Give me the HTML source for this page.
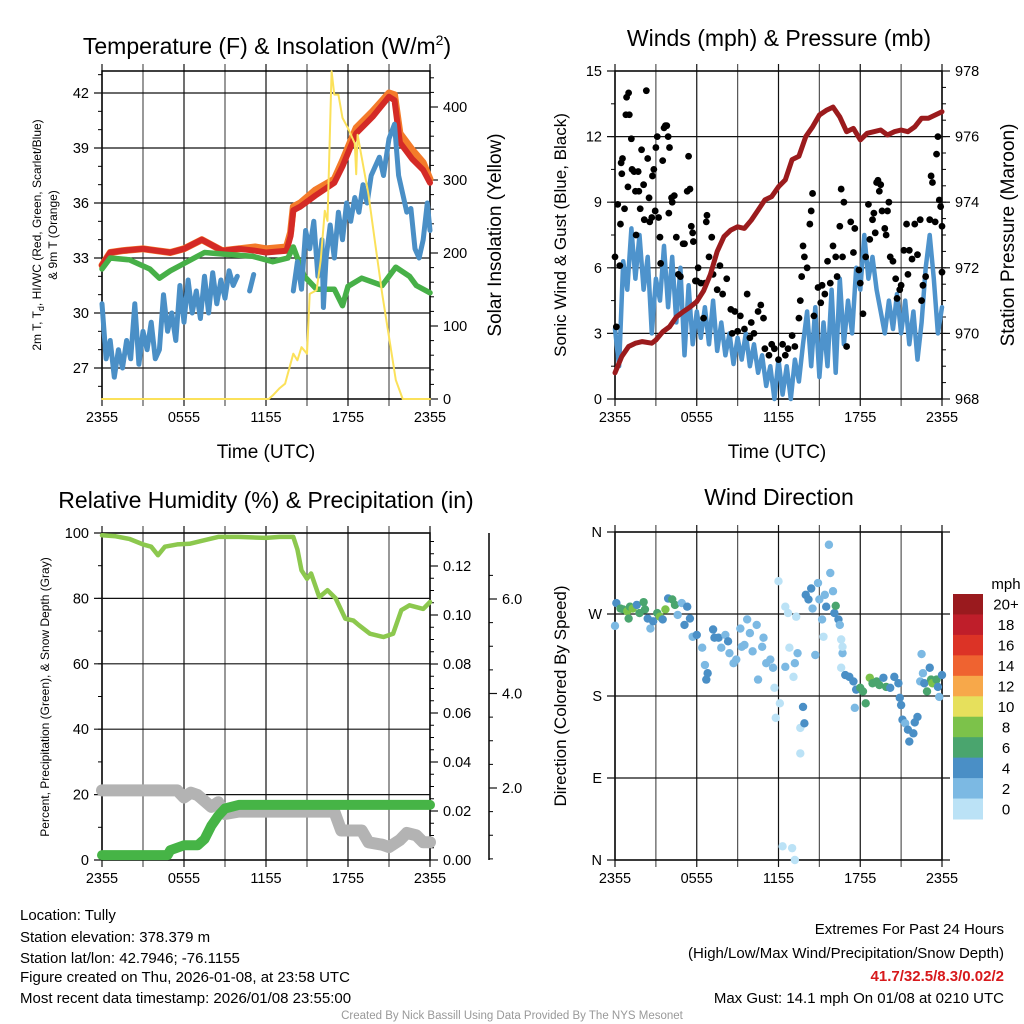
<!DOCTYPE html>
<html><head><meta charset="utf-8">
<style>
html,body{margin:0;padding:0;background:#fff;}
svg{display:block;font-family:"Liberation Sans",Arial,sans-serif;}
</style></head>
<body>
<svg id="chart" xmlns="http://www.w3.org/2000/svg" width="1024" height="1024" viewBox="0 0 1024 1024">
<g id="static" fill="#000">
<text x="267" y="54" font-size="23" text-anchor="middle">Temperature (F) &amp; Insolation (W/m<tspan font-size="14" dy="-9">2</tspan><tspan dy="9">)</tspan></text>
<text x="779" y="46" font-size="23" text-anchor="middle">Winds (mph) &amp; Pressure (mb)</text>
<text x="266" y="508" font-size="23" text-anchor="middle">Relative Humidity (%) &amp; Precipitation (in)</text>
<text x="779" y="505" font-size="23" text-anchor="middle">Wind Direction</text>
<text x="266" y="458" font-size="19" text-anchor="middle">Time (UTC)</text>
<text x="777" y="458" font-size="19" text-anchor="middle">Time (UTC)</text>
<text transform="translate(41,235) rotate(-90)" font-size="12" text-anchor="middle">2m T, T<tspan font-size="9" dy="3">d</tspan><tspan dy="-3">, HI/WC (Red, Green, Scarlet/Blue)</tspan></text>
<text transform="translate(57,235) rotate(-90)" font-size="12" text-anchor="middle">&amp; 9m T (Orange)</text>
<text transform="translate(501,235) rotate(-90)" font-size="19" text-anchor="middle">Solar Insolation (Yellow)</text>
<text transform="translate(566,235) rotate(-90)" font-size="17" text-anchor="middle">Sonic Wind &amp; Gust (Blue, Black)</text>
<text transform="translate(1014,235) rotate(-90)" font-size="19" text-anchor="middle">Station Pressure (Maroon)</text>
<text transform="translate(49,697) rotate(-90)" font-size="12" text-anchor="middle">Percent, Precipitation (Green), &amp; Snow Depth (Gray)</text>
<text transform="translate(566,696) rotate(-90)" font-size="17" text-anchor="middle">Direction (Colored By Speed)</text>
<text x="1006" y="589" font-size="15" text-anchor="middle">mph</text>
<g font-size="15">
<text x="20" y="920">Location: Tully</text>
<text x="20" y="942">Station elevation: 378.379 m</text>
<text x="20" y="963">Station lat/lon: 42.7946; -76.1155</text>
<text x="20" y="982">Figure created on Thu, 2026-01-08, at 23:58 UTC</text>
<text x="20" y="1003">Most recent data timestamp: 2026/01/08 23:55:00</text>
</g>
<g font-size="15" text-anchor="end">
<text x="1004" y="934">Extremes For Past 24 Hours</text>
<text x="1004" y="958">(High/Low/Max Wind/Precipitation/Snow Depth)</text>
<text x="1004" y="981" fill="#d7191c" font-weight="bold">41.7/32.5/8.3/0.02/2</text>
<text x="1004" y="1003">Max Gust: 14.1 mph On 01/08 at 0210 UTC</text>
</g>
<text x="512" y="1019" font-size="11.5" fill="#999" text-anchor="middle">Created By Nick Bassill Using Data Provided By The NYS Mesonet</text>
</g>
</svg>
<script>
// ---------- DATA ----------
const xTickLabels = ["2355","0555","1155","1755","2355"];
// Temperature panel
const tempTimes = [0,0.6,1.5,3,4,5,6,7.3,8.8,10,11.2,12,13.5,13.8,14,14.5,15.6,17,17.6,18.6,19.8,21,21.4,21.8,22.7,23.5,24];
const tempValues = [32.6,33.3,33.4,33.5,33.4,33.3,33.5,34.0,33.4,33.5,33.4,33.3,33.4,34.2,35.6,35.8,36.4,37.1,38.0,39.8,40.7,41.8,41.6,39.3,38.4,37.8,37.1];
const t9Values = [32.6,33.3,33.4,33.5,33.4,33.3,33.5,34.0,33.4,33.5,33.6,33.5,33.6,34.4,35.8,36.0,36.7,37.3,38.3,40.1,41.0,42.0,41.9,39.8,38.9,38.2,37.3];
const greenTimes = [0,0.6,2,3.5,4.2,5,6,7.5,9,11,12.5,13.6,14,14.4,14.8,15.7,17,17.6,18,19,20.5,21.5,22.5,23,24];
const greenValues = [32.4,33.0,32.9,32.4,31.9,32.3,32.7,33.3,33.2,33.1,32.8,33.0,33.6,32.8,32.0,31.3,31.3,30.4,31.45,31.9,31.5,32.5,32.0,31.5,31.1];
const blueTimes = [0,0.3,0.6,0.9,1.2,1.5,1.8,2.1,2.4,2.7,3,3.3,3.6,3.9,4.2,4.5,4.8,5.1,5.4,5.7,6,6.3,6.6,6.9,7.2,7.5,7.8,8.1,8.4,8.7,9,9.3,9.6,9.9,10.2,10.8,11.1,11.4,14,14.3,14.6,14.9,15.2,15.5,15.8,16.1,16.2,16.4,16.7,17,17.3,17.6,17.9,18.2,18.5,18.8,19.1,19.4,19.7,20,20.3,20.6,21,21.4,21.7,22,22.3,22.6,22.9,23.2,23.5,23.8,24];
const blueValues = [30.5,27.5,28.5,26.5,28,27,28.5,27.5,30.5,27.2,29,28,29.5,27.5,28,31,29,30,28.5,31.5,29.5,31.8,30,31.2,29.7,32,30,32.2,30.5,31.8,30.8,32.3,31.5,32,null,31.2,32.1,null,31.2,32.8,31.3,34.5,33.5,35,32,34,30.3,33,34.8,33,35.5,34,36,35,36.3,35.5,37,36,37.5,38,38.5,37.5,39.5,40.3,37.5,36.5,35.5,35.7,33.5,33,34,36,34.5];
const solarTimes = [0,12.2,12.5,13,13.4,14,14.3,14.6,15,15.2,15.7,16,16.3,16.5,16.8,17,17.3,17.6,18,18.5,18.6,18.7,19,19.5,20,20.5,21,21.5,22,24];
const solarValues = [0,0,5,15,21,62,53,71,62,144,149,190,258,244,449,417,417,385,371,350,308,362,331,280,212,144,85,26,0,0];
const tempTicks = [27,30,33,36,39,42];
const solarTicks = [0,100,200,300,400];
// Wind panel
const pressTimes = [0,0.5,1,1.5,2,2.7,3,3.5,4,4.5,5,5.5,6,6.5,7,7.5,8,8.5,9,9.5,10,10.5,11,11.5,12,12.5,13,13.5,14,14.5,15,15.5,16,16.5,17,17.5,18,18.5,19,19.5,20,20.5,21,21.5,22,22.5,23,24];
const pressValues = [968.8,969.3,969.6,969.7,969.75,969.7,969.8,970.05,970.2,970.5,970.66,970.8,970.97,971.3,971.8,972.5,972.95,973.15,973.25,973.2,973.45,973.76,974.07,974.17,974.47,974.68,975.3,975.4,976.0,976.3,976.66,976.8,976.9,976.6,976.15,976.25,975.9,976.1,976.15,976.2,976.05,976.15,976.2,976.15,976.3,976.56,976.56,976.76];
const sonicTimes = [0,0.3,0.6,0.9,1.2,1.5,1.8,2.1,2.4,2.7,3,3.3,3.6,3.9,4.2,4.5,4.8,5.1,5.4,5.7,6,6.3,6.6,6.9,7.2,7.5,7.8,8.1,8.4,8.7,9,9.3,9.6,9.9,10.2,10.5,10.8,11.1,11.4,11.7,12,12.3,12.6,12.9,13.2,13.5,13.8,14.1,14.4,14.7,15,15.3,15.6,15.9,16.2,16.5,16.8,17.1,17.4,17.7,18,18.3,18.6,18.9,19.2,19.5,19.8,20.1,20.4,20.7,21,21.3,21.6,21.9,22.2,22.5,22.8,23.1,23.4,23.7,24];
const sonicValues = [3.2,1.5,6.3,5.0,7.8,5.5,7.5,5.0,6.5,3.0,5.5,4.5,7.0,4.2,6.5,3.5,6.0,2.0,5.2,2.5,4.0,2.8,4.2,2.5,4.5,2.2,3.5,2.0,3.0,1.6,2.8,1.8,3.0,1.5,2.5,1.2,2.0,0.6,1.5,0.0,1.8,0.2,1.5,0.0,1.8,0.8,2.5,4.0,1.5,4.2,1.0,3.5,1.5,5.0,1.2,5.5,2.5,4.5,3.0,6.0,5.0,7.5,5.5,6.5,5.0,4.0,3.0,4.5,3.2,4.8,3.0,4.5,2.5,4.0,1.8,3.5,6.0,7.5,5.5,3.0,4.2];
const gustTimes = [0,0.1,0.2,0.35,0.4,0.45,0.5,0.55,0.7,0.8,0.85,0.95,1.0,1.05,1.2,1.25,1.4,1.5,1.55,1.7,1.75,1.85,1.95,2.1,2.15,2.3,2.4,2.5,2.55,2.7,2.75,2.85,2.95,3.0,3.1,3.2,3.3,3.35,3.5,3.6,3.7,3.8,3.9,3.95,4.0,4.15,4.2,4.35,4.5,4.65,4.8,5.0,5.1,5.3,5.4,5.5,5.6,5.7,5.75,5.9,6.0,6.1,6.3,6.5,6.6,6.7,6.75,6.9,7.1,7.2,7.5,7.7,7.9,8.2,8.5,8.6,8.8,9.0,9.2,9.5,9.7,9.9,10.0,10.2,10.5,10.7,10.9,11.0,11.3,11.5,11.7,12.0,12.3,12.5,12.7,13.0,13.2,13.5,13.6,13.7,13.8,13.9,14.1,14.3,14.4,14.5,14.6,14.9,15.1,15.2,15.4,15.6,15.8,16.0,16.2,16.3,16.5,16.6,16.7,16.8,17.0,17.3,17.5,17.6,17.9,18.0,18.2,18.4,18.6,18.7,18.9,19.0,19.1,19.2,19.3,19.4,19.5,19.6,19.8,19.9,20.0,20.1,20.2,20.4,20.6,20.7,20.9,21.0,21.2,21.4,21.5,21.6,21.8,22.0,22.2,22.4,22.5,22.6,22.8,23.1,23.2,23.3,23.5,23.6,23.7,23.8,23.9,24,24];
const gustValues = [6.5,3.3,8.9,6.1,8.0,10.8,10.3,11.0,8.7,13.0,13.8,9.7,14.0,13.0,11.9,10.5,10.4,9.5,7.5,10.4,9.5,8.7,11.4,9.8,8.2,14.1,11.0,9.2,8.1,8.3,10.2,10.5,8.6,11.5,12.0,8.3,7.4,6.2,10.9,12.4,12.5,12.5,12.0,8.5,11.5,9.2,9.0,9.3,7.4,5.7,5.6,7.1,7.1,9.5,11.1,9.6,7.9,7.6,7.2,5.4,5.4,6.0,5.3,3.7,5.3,8.1,8.4,6.5,7.4,5.7,5.0,6.1,4.8,5.5,4.1,3.0,4.0,3.1,3.8,3.2,4.8,2.8,3.5,3.0,4.0,4.3,3.7,2.3,2.0,2.5,2.3,1.8,2.5,2.0,2.3,2.9,2.4,3.7,4.5,5.6,7.0,6.5,6.0,8.0,8.6,9.4,3.8,5.1,4.4,5.2,4.8,6.3,5.3,7.0,6.5,5.6,7.9,9.6,6.5,9.0,2.4,8.1,6.7,7.8,5.9,5.3,3.9,6.5,8.9,7.3,8.2,8.5,7.6,9.9,10.0,9.5,9.8,8.6,7.8,7.5,8.6,9.0,6.5,6.3,5.5,4.6,5.0,5.2,6.8,8.0,5.7,6.8,6.4,8.0,6.6,8.2,4.5,5.2,5.6,8.2,10.2,9.9,8.1,11.2,12.0,9.1,8.8,7.9,5.8];
const windTicks = [0,3,6,9,12,15];
const pressTicks = [968,970,972,974,976,978];
// RH panel
const rhTimes = [0,1,2,3,3.6,4.1,4.6,5.5,6.4,7.5,8.5,10,12,13,14,14.3,14.6,15,15.3,15.9,16.5,17.1,17.8,18.4,18.8,19.6,20.6,21.3,21.9,22.5,23.5,24];
const rhValues = [99.3,99,98.2,96.5,95.8,93.2,95.8,96.5,96.7,97.8,98.8,98.8,98.5,98.8,98.8,95,88.6,86,87.6,80.4,82.5,80,73.8,73.2,71.8,69.2,68.2,69.2,76.4,77.9,76.8,78.9];
const precipTimes = [0,4.8,5.0,6.0,7.0,7.5,8.0,8.5,9.0,10,24];
const precipValues = [0.002,0.002,0.004,0.006,0.006,0.0085,0.014,0.018,0.021,0.0225,0.0225];
const snowTimes = [0,5.5,6,6.5,7,8,8.5,9,10,17,17.5,19,19.5,20.5,21,21.8,22.3,23,23.5,24];
const snowValues = [1.95,1.95,1.8,1.9,1.85,1.6,1.7,1.45,1.5,1.5,1.1,1.1,0.85,0.8,0.75,0.9,1.05,1.0,0.85,0.85];
const rhTicks = [0,20,40,60,80,100];
const precipTicks = [0,0.02,0.04,0.06,0.08,0.10,0.12];
const precipLabels = ["0.00","0.02","0.04","0.06","0.08","0.10","0.12"];
const snowTicks = [2,4,6];
const snowLabels = ["2.0","4.0","6.0"];
// Direction panel
const dirTimes = [0,0.1,0.4,0.6,0.9,1.0,1.1,1.3,1.6,1.8,2.1,2.2,2.4,2.6,2.8,3.1,3.3,3.5,3.7,3.9,4.2,4.4,4.6,4.9,5.1,5.3,5.5,5.7,6.0,6.4,6.6,6.7,6.8,7.2,7.3,7.6,7.8,8.1,8.3,8.4,8.7,8.9,9.2,9.3,9.5,9.7,9.9,10.1,10.4,10.5,10.8,10.9,11.1,11.4,11.6,11.7,11.8,12.0,12.1,12.3,12.5,12.5,12.7,12.8,13.0,13.1,13.2,13.2,13.3,13.4,13.6,13.6,13.8,13.9,14.0,14.2,14.4,14.5,14.7,14.9,15.0,15.2,15.3,15.4,15.5,15.7,15.8,16.0,16.1,16.2,16.4,16.5,16.6,16.7,16.7,16.6,16.9,17.2,17.5,17.6,17.7,18.0,18.2,18.4,18.7,18.9,19.2,19.4,19.7,19.9,20.2,20.5,20.8,20.9,21.0,21.1,21.3,21.5,21.6,21.9,22.0,22.2,22.4,22.5,22.6,22.7,22.9,23.1,23.2,23.3,23.6,23.7,23.8,24.0];
const dirDegrees = [257,282,276,275,273,265,278,276,280,271,283,275,265,254,262,271,267,264,275,287,286,280,269,282,258,278,265,245,247,233,214,198,205,253,244,244,233,247,240,227,216,220,254,234,236,264,249,229,258,198,234,244,216,220,211,189,156,306,172,15,278,212,271,233,13,201,0,216,267,227,145,117,168,150,291,286,298,276,225,304,286,264,245,291,278,346,315,295,271,279,264,258,242,227,234,211,203,201,196,167,187,189,185,172,200,194,196,192,200,190,189,201,194,178,170,154,150,143,130,139,151,157,196,226,205,194,185,211,198,194,198,190,179,203];
const dirSpeeds = [3,5,7,7,9,7,7,9,5,7,7,7,5,3,5,7,9,5,9,5,7,7,3,3,5,5,5,3,5,3,3,5,5,5,5,5,3,3,5,3,3,3,3,3,3,3,3,3,3,3,3,3,3,3,3,1,1,1,1,1,1,3,1,1,1,1,1,3,1,3,1,1,5,5,5,5,5,3,3,3,3,3,1,3,5,3,3,3,5,7,5,3,1,3,1,1,5,5,5,3,5,7,7,7,9,7,7,7,5,7,5,5,5,5,5,5,3,5,5,5,5,5,3,3,3,5,7,5,7,9,7,5,3,5];
const dirTicks = [0,90,180,270,360];
const dirLabels = ["N","E","S","W","N"];
const cbarLabels = ["20+","18","16","14","12","10","8","6","4","2","0"];
const cbarColors = ["#9a1a1e","#bf1e2a","#dc3326","#ef6330","#f7a84a","#e6e05c","#7cc24a","#4aa56e","#4a8fc6","#7cb9e3","#bbe2f6"];

// ---------- HELPERS ----------
const NS = "http://www.w3.org/2000/svg";
const svg = document.getElementById("chart");
function mk(tag, attrs, parent) {
  const e = document.createElementNS(NS, tag);
  for (const k in attrs) e.setAttribute(k, attrs[k]);
  (parent || svg).appendChild(e);
  return e;
}
function lin(d0, d1, r0, r1) { return v => r0 + (v - d0) * (r1 - r0) / (d1 - d0); }
function speedColor(s) {
  const idx = Math.min(10, Math.floor(s / 2));
  return cbarColors[10 - idx];
}
function drawLine(times, vals, xs, ys, color, width, name, g) {
  let segs = [], cur = [];
  for (let i = 0; i < times.length; i++) {
    if (vals[i] === null) { if (cur.length) segs.push(cur); cur = []; continue; }
    cur.push(xs(times[i]).toFixed(1) + "," + ys(vals[i]).toFixed(1));
  }
  if (cur.length) segs.push(cur);
  segs.forEach(s => {
    const p = mk("polyline", {points: s.join(" "), fill: "none", stroke: color, "stroke-width": width, "stroke-linejoin": "round", "stroke-linecap": "round"}, g);
    
    
  });
}
function frame(x0, x1, y0, y1, name, timeLabels, labelY) {
  const g = mk("g", {});
  
  
  const xs = lin(0, 24, x0, x1);
  for (let h = 0; h <= 24; h += 3) {
    const l = mk("line", {x1: xs(h), x2: xs(h), y1: y0 - 7, y2: y1 + 7, stroke: (h % 6 === 0) ? "#111" : "#555", "stroke-width": 1.2}, g);
    
    
  }
  if (timeLabels) {
    for (let i = 0; i < 5; i++) {
      const t = mk("text", {x: xs(i * 6), y: labelY, "font-size": 14.5, "text-anchor": "middle"}, g);
      t.textContent = xTickLabels[i];
      
      
    }
  }
  const r = mk("rect", {x: x0, y: y0, width: x1 - x0, height: y1 - y0, fill: "none", stroke: "#000", "stroke-width": 1.5}, g);
  
  
  return g;
}
function yAxis(g, ticks, labels, ys, x, side, minorStep, dmin, dmax, gridX1, name) {
  const dir = side === "left" ? -1 : 1;
  for (let v = dmin; v <= dmax + 1e-9; v += minorStep) {
    const y = ys(v);
    const m = mk("line", {x1: x, x2: x + dir * 4, y1: y, y2: y, stroke: "#000", "stroke-width": 1}, g);
    
    
  }
  ticks.forEach((v, i) => {
    const y = ys(v);
    const tl = mk("line", {x1: x + dir * 8, x2: gridX1 !== null ? gridX1 : x, y1: y, y2: y, stroke: "#111", "stroke-width": 1.2}, g);
    
    
    const t = mk("text", {x: x + dir * 13, y: y + 5, "font-size": 14.5, "text-anchor": side === "left" ? "end" : "start"}, g);
    t.textContent = labels ? labels[i] : String(v);
    
    
  });
}

// ---------- PANEL 1: Temperature ----------
{
  const x0 = 102, x1 = 430, y0 = 71, y1 = 399;
  const g = frame(x0, x1, y0, y1, "temp", true, 422);
  const xs = lin(0, 24, x0, x1);
  const ys = lin(27, 42, 368, 93);
  const ss = lin(0, 400, 399, 107);
  yAxis(g, tempTicks, null, ys, x0, "left", 1, 26, 43, x1, "temp-y");
  yAxis(g, solarTicks, null, ss, x1, "right", 20, 0, 440, null, "solar-y");
  const d = mk("g", {});
  
  
  drawLine(tempTimes, t9Values, xs, ys, "#f47b2a", 7, "nine-meter-temp-line", d);
  drawLine(tempTimes, tempValues, xs, ys, "#d42a26", 6, "two-meter-temp-line", d);
  drawLine(greenTimes, greenValues, xs, ys, "#47b048", 5.5, "dewpoint-line", d);
  drawLine(blueTimes, blueValues, xs, ys, "#4a8fc6", 5, "heat-index-windchill-line", d);
  drawLine(solarTimes, solarValues, xs, ss, "#fbe15a", 2, "solar-insolation-line", d);
}
// ---------- PANEL 2: Winds ----------
{
  const x0 = 615, x1 = 942, y0 = 71, y1 = 399;
  const g = frame(x0, x1, y0, y1, "wind", true, 422);
  const xs = lin(0, 24, x0, x1);
  const ys = lin(0, 15, 399, 71);
  const ps = lin(968, 978, 399, 71);
  yAxis(g, windTicks, null, ys, x0, "left", 1.5, 0, 15, x1, "wind-y");
  yAxis(g, pressTicks, null, ps, x1, "right", 0.5, 968, 978, null, "pressure-y");
  const d = mk("g", {});
  
  
  drawLine(sonicTimes, sonicValues, xs, ys, "#4e93cc", 4.5, "sonic-wind-line", d);
  for (let i = 0; i < gustTimes.length; i++) {
    const c = mk("circle", {cx: xs(gustTimes[i]), cy: ys(gustValues[i]), r: 3.4, fill: "#000"}, d);
    
    
  }
  drawLine(pressTimes, pressValues, xs, ps, "#9b1b1d", 5, "pressure-line", d);
}
// ---------- PANEL 3: RH ----------
{
  const x0 = 102, x1 = 430, y0 = 533, y1 = 860;
  const g = frame(x0, x1, y0, y1, "rh", true, 883);
  const xs = lin(0, 24, x0, x1);
  const ys = lin(0, 100, 860, 533);
  const ps = lin(0, 0.12, 860, 566);
  const sn = lin(2, 6, 788, 599);
  yAxis(g, rhTicks, null, ys, x0, "left", 10, 0, 100, x1, "rh-y");
  yAxis(g, precipTicks, precipLabels, ps, x1, "right", 0.005, 0, 0.13, null, "precip-y");
  const ax = mk("line", {x1: 489, x2: 489, y1: 533, y2: 860, stroke: "#000", "stroke-width": 1.5}, g);
  
  
  yAxis(g, snowTicks, snowLabels, sn, 489, "right", 0.5, 0.5, 6.5, null, "snow-y");
  const d = mk("g", {});
  
  
  drawLine(snowTimes, snowValues, xs, sn, "#b3b3b3", 12, "snow-depth-line", d);
  drawLine(precipTimes, precipValues, xs, ps, "#46b446", 10, "precipitation-line", d);
  drawLine(rhTimes, rhValues, xs, ys, "#8cc84e", 4.5, "relative-humidity-line", d);
}
// ---------- PANEL 4: Direction ----------
{
  const x0 = 615, x1 = 942, y0 = 532, y1 = 860;
  const g = frame(x0, x1, y0, y1, "dir", true, 883);
  const xs = lin(0, 24, x0, x1);
  const ys = lin(0, 360, 860, 532);
  yAxis(g, dirTicks, dirLabels, ys, x0, "left", 90, 0, 360, 950, "dir-y");
  const d = mk("g", {});
  
  
  for (let i = 0; i < dirTimes.length; i++) {
    const c = mk("circle", {cx: xs(dirTimes[i]), cy: ys(dirDegrees[i]), r: 4.2, fill: speedColor(dirSpeeds[i])}, d);
    
    
  }
  const cb = mk("g", {});
  
  
  const bh = 225 / cbarColors.length;
  for (let i = 0; i < cbarColors.length; i++) {
    const r = mk("rect", {x: 953, y: 594 + i * bh, width: 30, height: bh + 0.5, fill: cbarColors[i]}, cb);
    
    
    const t = mk("text", {x: 1006, y: 594 + i * bh + bh / 2 + 5.5, "font-size": 15, "text-anchor": "middle"}, cb);
    t.textContent = cbarLabels[i];
    
    
  }
}
</script>
</body></html>
